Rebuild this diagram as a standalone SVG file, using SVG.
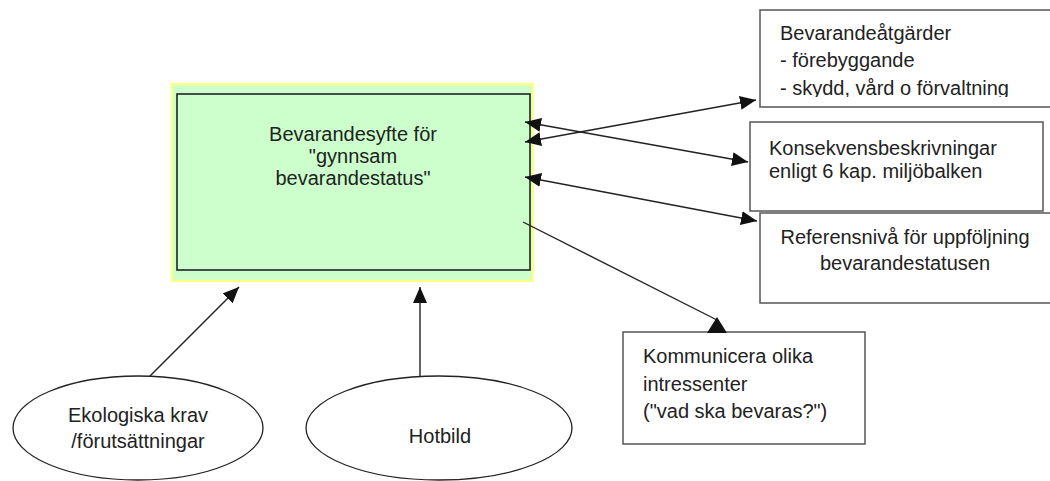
<svg xmlns="http://www.w3.org/2000/svg" width="1050" height="481" viewBox="0 0 1050 481">
  <style>
    text { font-family: "Liberation Sans", Arial, sans-serif; font-size: 20px; fill: #222; }
    .mid { text-anchor: middle; }
    .box { fill: #fff; stroke: #555; stroke-width: 1.5; }
    .ell { fill: #fff; stroke: #222; stroke-width: 1.3; }
    .con { fill: none; stroke: #222; stroke-width: 1.4; }
  </style>
  <defs>
    <marker id="ah" viewBox="0 0 16 14" refX="16" refY="7" markerWidth="16" markerHeight="14" markerUnits="userSpaceOnUse" orient="auto-start-reverse">
      <path d="M0,0 L16,7 L0,14 z" fill="#111"/>
    </marker>
    <clipPath id="clip1">
      <rect x="760" y="10" width="300" height="87"/>
    </clipPath>
  </defs>
  <rect width="1050" height="481" fill="#fff"/>

  <g id="main">
    <rect x="172" y="84" width="361" height="197" fill="#CCFFCC" stroke="#FFFF88" stroke-width="2.5"/>
    <rect x="177" y="94" width="353" height="176" fill="none" stroke="#222" stroke-width="1.6"/>
    <text class="mid" x="353" y="141">Bevarandesyfte för</text>
    <text class="mid" x="353" y="163">"gynnsam</text>
    <text class="mid" x="353" y="185">bevarandestatus"</text>
  </g>

  <g id="box-atgarder">
    <rect class="box" x="760" y="10" width="300" height="97"/>
    <g clip-path="url(#clip1)">
      <text x="780" y="40">Bevarandeåtgärder</text>
      <text x="780" y="67">- förebyggande</text>
      <text x="780" y="95">- skydd, vård o förvaltning</text>
    </g>
  </g>

  <g id="box-konsekvens">
    <rect class="box" x="750" y="122" width="293" height="89"/>
    <text x="769" y="155">Konsekvensbeskrivningar</text>
    <text x="769" y="178">enligt 6 kap. miljöbalken</text>
  </g>

  <g id="box-referens">
    <rect class="box" x="760" y="213" width="300" height="90"/>
    <text class="mid" x="905" y="244">Referensnivå för uppföljning</text>
    <text class="mid" x="905" y="270">bevarandestatusen</text>
  </g>

  <g id="box-kommunicera">
    <rect class="box" x="623" y="332" width="242" height="112"/>
    <text x="643" y="363">Kommunicera olika</text>
    <text x="643" y="391">intressenter</text>
    <text x="643" y="418">("vad ska bevaras?")</text>
  </g>

  <g id="ell-ekologiska">
    <ellipse class="ell" cx="138" cy="428" rx="125" ry="52"/>
    <text class="mid" x="138" y="422">Ekologiska krav</text>
    <text class="mid" x="138" y="448">/förutsättningar</text>
  </g>

  <g id="ell-hotbild">
    <ellipse class="ell" cx="439" cy="428" rx="133" ry="52"/>
    <text class="mid" x="440" y="443">Hotbild</text>
  </g>

  <g id="connectors">
    <line class="con" x1="150" y1="376" x2="239" y2="287" marker-end="url(#ah)"/>
    <line class="con" x1="420" y1="377" x2="420" y2="287" marker-end="url(#ah)"/>
    <line class="con" x1="525" y1="142" x2="756" y2="100" marker-start="url(#ah)" marker-end="url(#ah)"/>
    <line class="con" x1="525" y1="122" x2="748" y2="162" marker-start="url(#ah)" marker-end="url(#ah)"/>
    <line class="con" x1="525" y1="177" x2="757" y2="221" marker-start="url(#ah)" marker-end="url(#ah)"/>
    <line class="con" x1="523" y1="222" x2="717" y2="320"/>
    <polygon points="707,333 727,333 717,317" fill="#111"/>
  </g>
</svg>
